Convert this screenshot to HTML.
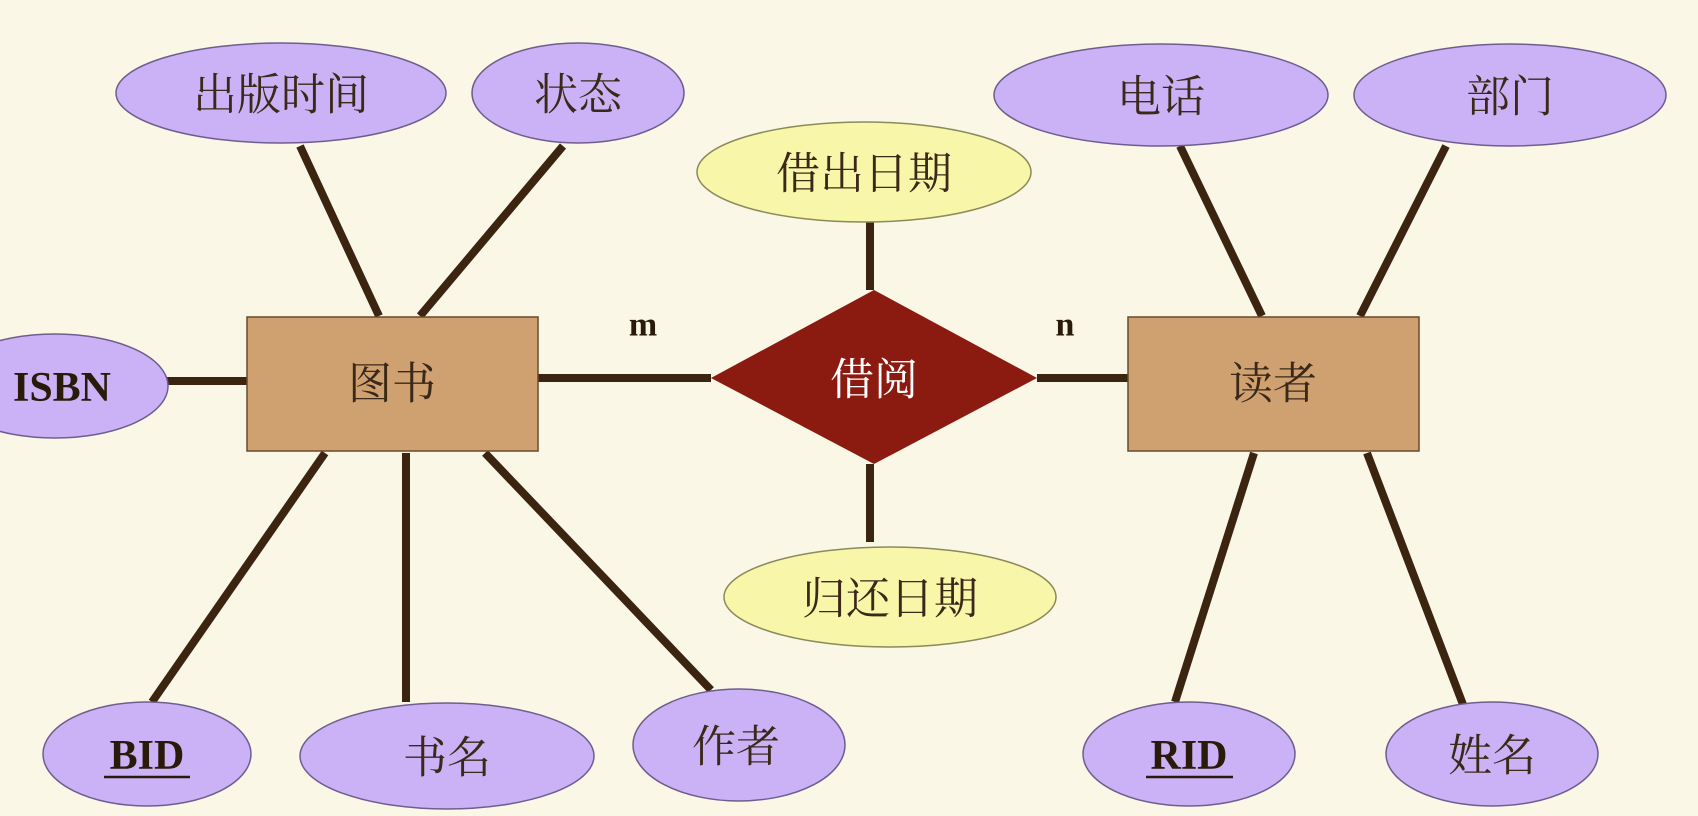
<!DOCTYPE html>
<html><head><meta charset="utf-8"><style>
html,body{margin:0;padding:0;background:#fbf7e6;}
svg{display:block}
.c{font-family:"Liberation Serif","Noto Serif CJK SC",serif;font-size:44px;fill:#3a2818;text-anchor:middle;dominant-baseline:central}
.b{font-family:"Liberation Serif",serif;font-weight:bold;font-size:42px;fill:#2a1a0a;text-anchor:middle;dominant-baseline:central}
.p{fill:#cbb2f6;stroke:#6e5e8e;stroke-width:1.5}
.y{fill:#f8f6a8;stroke:#8a8a5a;stroke-width:1.5}
</style></head><body>
<svg width="1698" height="816" viewBox="0 0 1698 816" xmlns="http://www.w3.org/2000/svg">
<rect width="1698" height="816" fill="#fbf7e6"/>
<g stroke="#3b2410" stroke-width="8">
<line x1="300" y1="146" x2="379" y2="316"/>
<line x1="563" y1="146" x2="420" y2="316"/>
<line x1="162" y1="381" x2="247" y2="381"/>
<line x1="538" y1="378" x2="711" y2="378"/>
<line x1="870" y1="222" x2="870" y2="290"/>
<line x1="870" y1="464" x2="870" y2="542"/>
<line x1="1037" y1="378" x2="1128" y2="378"/>
<line x1="325" y1="453" x2="152" y2="702"/>
<line x1="406" y1="453" x2="406" y2="702"/>
<line x1="485" y1="453" x2="711" y2="690"/>
<line x1="1180" y1="146" x2="1262" y2="316"/>
<line x1="1446" y1="146" x2="1360" y2="316"/>
<line x1="1254" y1="453" x2="1175" y2="702"/>
<line x1="1367" y1="453" x2="1467" y2="715"/>
</g>
<ellipse class="p" cx="281" cy="93" rx="165" ry="50"/><text class="c" x="281" y="95">出版时间</text>
<ellipse class="p" cx="578" cy="93" rx="106" ry="50"/><text class="c" x="578" y="95">状态</text>
<ellipse class="y" cx="864" cy="172" rx="167" ry="50"/><text class="c" x="864" y="174">借出日期</text>
<ellipse class="p" cx="1161" cy="95" rx="167" ry="51"/><text class="c" x="1161" y="97">电话</text>
<ellipse class="p" cx="1510" cy="95" rx="156" ry="51"/><text class="c" x="1510" y="97">部门</text>
<ellipse class="p" cx="55" cy="386" rx="113" ry="52"/><text class="b" x="62" y="388">ISBN</text>
<rect x="247" y="317" width="291" height="134" fill="#cfa070" stroke="#6a4a2a" stroke-width="1.5"/><text class="c" x="392" y="384">图书</text>
<polygon points="711,378 874,290 1037,378 874,464" fill="#8b1a10"/><text class="c" x="874" y="380" style="fill:#fff">借阅</text>
<rect x="1128" y="317" width="291" height="134" fill="#cfa070" stroke="#6a4a2a" stroke-width="1.5"/><text class="c" x="1273" y="384">读者</text>
<text class="b" x="643" y="325" style="font-size:34px">m</text>
<text class="b" x="1065" y="325" style="font-size:34px">n</text>
<ellipse class="y" cx="890" cy="597" rx="166" ry="50"/><text class="c" x="890" y="599">归还日期</text>
<ellipse class="p" cx="147" cy="754" rx="104" ry="52"/><text class="b" x="147" y="756">BID</text>
<line x1="104" y1="777" x2="190" y2="777" stroke="#2a1a0a" stroke-width="2.5"/>
<ellipse class="p" cx="447" cy="756" rx="147" ry="53"/><text class="c" x="447" y="758">书名</text>
<ellipse class="p" cx="739" cy="745" rx="106" ry="56"/><text class="c" x="736" y="747">作者</text>
<ellipse class="p" cx="1189" cy="754" rx="106" ry="52"/><text class="b" x="1189" y="756">RID</text>
<line x1="1146" y1="777" x2="1233" y2="777" stroke="#2a1a0a" stroke-width="2.5"/>
<ellipse class="p" cx="1492" cy="754" rx="106" ry="52"/><text class="c" x="1492" y="756">姓名</text>
</svg>
</body></html>
